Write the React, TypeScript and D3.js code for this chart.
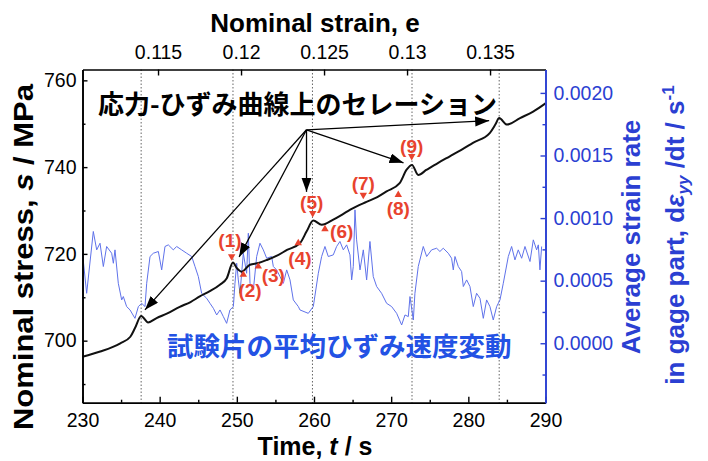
import { useEffect, useRef } from "react"
import * as d3 from "d3"

// stress-time curve (s, MPa)
const stressTime = [230, 232.3, 234.9, 236.2, 236.8, 237.6, 238.5, 239.6, 241.0, 242.6, 244.0, 245.2, 246.5, 247.8, 248.7, 249.5, 250.0, 250.6, 251.7, 252.8, 253.9, 255.2, 256.5, 258.2, 259.05, 259.9, 261.0, 262.5, 263.6, 264.7, 266.8, 268.2, 269.4, 271.1, 272.0, 272.7, 273.5, 274.6, 276.1, 277.6, 279.1, 280.6, 282.8, 283.5, 284.0, 285.0, 286.7, 288.4, 290.0]
const stressValues = [696.3, 697.5, 699.4, 700.9, 702.9, 705.7, 704.2, 705.2, 706.3, 707.8, 708.9, 710.2, 711.4, 712.9, 714.4, 718.0, 716.7, 715.9, 717.5, 717.9, 718.6, 719.6, 720.9, 722.5, 725.2, 727.7, 726.7, 727.9, 729.0, 730.2, 732.0, 733.1, 734.4, 736.3, 739.4, 740.5, 738.2, 739.4, 741.0, 742.5, 744.0, 745.6, 747.9, 749.8, 751.3, 749.8, 751.3, 752.8, 754.7]

// average strain rate (1/s)
const rateTime = [230.0, 230.54, 231.4, 231.84, 232.27, 232.7, 233.13, 233.78, 234.0, 234.21, 234.64, 235.08, 235.29, 235.72, 236.16, 236.8, 237.24, 237.67, 238.1, 238.32, 238.75, 239.18, 239.83, 240.26, 240.69, 241.12, 241.77, 242.2, 242.85, 243.5, 244.15, 244.58, 245.01, 245.44, 246.09, 246.52, 246.96, 247.39, 247.82, 248.25, 248.68, 249.11, 249.55, 249.76, 249.98, 250.19, 250.41, 250.84, 251.27, 251.49, 251.71, 252.14, 252.57, 253.0, 253.43, 253.87, 254.51, 254.73, 255.16, 255.59, 256.03, 256.46, 256.89, 257.32, 257.97, 258.18, 259.26, 259.91, 260.56, 260.99, 261.42, 261.85, 262.5, 262.93, 263.36, 263.8, 264.23, 264.66, 264.88, 265.09, 265.31, 265.52, 265.96, 266.39, 266.82, 267.25, 267.68, 268.12, 268.76, 269.41, 270.06, 270.71, 271.36, 271.79, 272.22, 272.44, 272.87, 273.08, 273.51, 274.16, 274.6, 275.24, 275.89, 276.32, 276.75, 277.4, 277.83, 278.05, 278.27, 278.7, 279.13, 279.35, 279.78, 280.21, 280.64, 281.07, 281.51, 281.94, 282.37, 282.8, 283.23, 283.67, 284.1, 284.53, 285.18, 285.61, 286.04, 286.47, 286.91, 287.34, 287.99, 288.42, 288.85, 289.07, 289.28, 289.5]
const rateValues = [0.000719, 0.000399, 0.000893, 0.000746, 0.000799, 0.000613, 0.000773, 0.000719, 0.000639, 0.000746, 0.000479, 0.000346, 0.000373, 0.000293, 0.000266, 0.000199, 0.000293, 0.000319, 0.000293, 0.000479, 0.000693, 0.000719, 0.000733, 0.000586, 0.000773, 0.000786, 0.000746, 0.000773, 0.000746, 0.000719, 0.000693, 0.000613, 0.000533, 0.000399, 0.000359, 0.000319, 0.000279, 0.000226, 0.000266, 0.000213, 0.000159, 0.000266, 0.000293, 0.000479, 0.000639, 0.000506, 0.000399, 0.000719, 0.000559, 0.000879, 0.000479, 0.000426, 0.000693, 0.000799, 0.000746, 0.000679, 0.000693, 0.000613, 0.000586, 0.000533, 0.000479, 0.000586, 0.000506, 0.000346, 0.000293, 0.000266, 0.000239, 0.000293, 0.000559, 0.000693, 0.000773, 0.000693, 0.000706, 0.000773, 0.000813, 0.000746, 0.000786, 0.000706, 0.000506, 0.000613, 0.001066, 0.000826, 0.000586, 0.000746, 0.000506, 0.000813, 0.000533, 0.000453, 0.000399, 0.000319, 0.000293, 0.000239, 0.000146, 0.000226, 0.000213, 0.000373, 0.000186, 0.000399, 0.000613, 0.000773, 0.000693, 0.000746, 0.000759, 0.000733, 0.000759, 0.000719, 0.000679, 0.000586, 0.000693, 0.000613, 0.000573, 0.000453, 0.000506, 0.000453, 0.000293, 0.000399, 0.000359, 0.000199, 0.000346, 0.000293, 0.000186, 0.000293, 0.000346, 0.000479, 0.000693, 0.000773, 0.000666, 0.000746, 0.000679, 0.000773, 0.000653, 0.000826, 0.000746, 0.000786, 0.000586, 0.000773]

const serrationTimes = [237.6, 249.5, 259.8, 272.7, 284.0]

const timeTicks = [230, 240, 250, 260, 270, 280, 290]
const timeMinor = [235, 245, 255, 265, 275, 285]
const strainTicks = [0.115, 0.12, 0.125, 0.13, 0.135]
const stressTicks = [700, 720, 740, 760]
const stressMinor = [690, 710, 730, 750]
const rateTicks = [0, 0.0005, 0.001, 0.0015, 0.002]
const rateMinor = [-0.00025, 0.00025, 0.00075, 0.00125, 0.00175]

// arrows from the caption to the serrations
const arrowOriginTime = 259.03
const arrowOriginStress = 748.6
const arrowTargetTime = [238.1, 250.3, 259.03, 271.6, 282.7]
const arrowTargetStress = [707.1, 719.3, 734.3, 741.0, 750.7]

// numbered events
const eventLabels = ["(1)", "(2)", "(3)", "(4)", "(5)", "(6)", "(7)", "(8)", "(9)"]
const eventMarkTime = [249.33, 250.84, 252.78, 257.96, 259.83, 261.42, 266.39, 270.92, 272.66]
const eventMarkStress = [719.4, 715.2, 717.1, 722.5, 729.4, 725.7, 733.6, 733.6, 742.5]
const eventMarkDown = [true, false, false, false, true, false, true, false, true]
const eventTextTime = [249.11, 251.71, 254.72, 258.18, 259.7, 263.59, 266.39, 270.92, 272.66]
const eventTextStress = [723.1, 711.7, 715.2, 719.0, 732.0, 725.2, 736.2, 730.6, 744.9]

const BLUE = "#2b3fd2"
const RED = "#e8432e"
const FONT = "Arial, 'Liberation Sans', sans-serif"
const JP = "'Noto Sans CJK JP', sans-serif"

export default function App() {
  const svgRef = useRef<SVGSVGElement>(null)

  useEffect(() => {
    document.body.style.margin = "0"
    if (!svgRef.current) return
    const svg = d3.select(svgRef.current)
    svg.selectAll("*").remove()

    const left = 82.5
    const right = 545.5
    const top = 69.5
    const bottom = 402.7

    const x = d3.scaleLinear().domain([230, 290]).range([left, right])
    const xStrain = d3.scaleLinear().domain([0.11045, 0.13834]).range([left, right])
    const y = d3.scaleLinear().domain([685.7, 762.5]).range([bottom, top])
    const yRate = d3.scaleLinear().domain([-0.000475, 0.002187]).range([bottom, top])

    const defs = svg.append("defs")
    defs
      .append("marker")
      .attr("id", "arrowhead")
      .attr("markerUnits", "userSpaceOnUse")
      .attr("markerWidth", 15)
      .attr("markerHeight", 11)
      .attr("refX", 14)
      .attr("refY", 5)
      .attr("orient", "auto")
      .append("path")
      .attr("d", "M0,0 L14,5 L0,10 Z")
      .attr("fill", "#000")

    // dotted serration lines
    svg
      .append("g")
      .selectAll("line")
      .data(serrationTimes)
      .enter()
      .append("line")
      .attr("x1", (d) => x(d))
      .attr("x2", (d) => x(d))
      .attr("y1", top)
      .attr("y2", bottom)
      .attr("stroke", "#555")
      .attr("stroke-width", 0.9)
      .attr("stroke-dasharray", "1.5,2")

    // strain rate line
    const rateData = rateTime.map((t, i) => [t, rateValues[i]] as [number, number])
    svg
      .append("path")
      .datum(rateData)
      .attr("fill", "none")
      .attr("stroke", "#5f72ea")
      .attr("stroke-width", 1)
      .attr("d", d3.line<[number, number]>().x((d) => x(d[0])).y((d) => yRate(d[1])))

    // stress line
    const stressData = stressTime.map((t, i) => [t, stressValues[i]] as [number, number])
    svg
      .append("path")
      .datum(stressData)
      .attr("fill", "none")
      .attr("stroke", "#111")
      .attr("stroke-width", 2)
      .attr("stroke-linejoin", "round")
      .attr(
        "d",
        d3
          .line<[number, number]>()
          .x((d) => x(d[0]))
          .y((d) => y(d[1]))
          .curve(d3.curveMonotoneX)
      )

    // axes
    const styleAxis = (g: any, color: string) => {
      g.select(".domain").attr("stroke", color).attr("stroke-width", 1.6)
      g.selectAll(".tick line").attr("stroke", color).attr("stroke-width", 1.4)
      g.selectAll(".tick text")
        .attr("fill", color)
        .attr("font-family", FONT)
        .attr("font-size", 19.5)
    }

    const bottomMinor = svg.append("g").attr("transform", `translate(0,${bottom})`)
      .call(d3.axisBottom(x).tickValues(timeMinor).tickSize(-3).tickSizeOuter(0).tickFormat(() => ""))
    styleAxis(bottomMinor, "#000")
    const bottomAxis = svg.append("g").attr("transform", `translate(0,${bottom})`)
      .call(d3.axisBottom(x).tickValues(timeTicks).tickSize(-6).tickSizeOuter(0).tickPadding(10).tickFormat(d3.format("d")))
    styleAxis(bottomAxis, "#000")

    const topAxis = svg.append("g").attr("transform", `translate(0,${top})`)
      .call(d3.axisTop(xStrain).tickValues(strainTicks).tickSize(-6).tickSizeOuter(0).tickPadding(11).tickFormat((d: any) => String(+d)))
    styleAxis(topAxis, "#000")

    const leftMinor = svg.append("g").attr("transform", `translate(${left},0)`)
      .call(d3.axisLeft(y).tickValues(stressMinor).tickSize(-3).tickSizeOuter(0).tickFormat(() => ""))
    styleAxis(leftMinor, "#000")
    const leftAxis = svg.append("g").attr("transform", `translate(${left},0)`)
      .call(d3.axisLeft(y).tickValues(stressTicks).tickSize(-5).tickSizeOuter(0).tickPadding(6).tickFormat(d3.format("d")))
    styleAxis(leftAxis, "#000")

    const rightMinor = svg.append("g").attr("transform", `translate(${right},0)`)
      .call(d3.axisRight(yRate).tickValues(rateMinor).tickSize(-3).tickSizeOuter(0).tickFormat(() => ""))
    styleAxis(rightMinor, BLUE)
    const rightAxis = svg.append("g").attr("transform", `translate(${right},0)`)
      .call(d3.axisRight(yRate).tickValues(rateTicks).tickSize(-5).tickSizeOuter(0).tickPadding(8).tickFormat(d3.format(".4f")))
    styleAxis(rightAxis, BLUE)

    // arrows
    svg
      .append("g")
      .selectAll("line")
      .data(arrowTargetTime)
      .enter()
      .append("line")
      .attr("x1", x(arrowOriginTime))
      .attr("y1", y(arrowOriginStress))
      .attr("x2", (d) => x(d))
      .attr("y2", (d, i) => y(arrowTargetStress[i]))
      .attr("stroke", "#000")
      .attr("stroke-width", 1.3)
      .attr("marker-end", "url(#arrowhead)")

    // event markers and labels
    const tri = d3.symbol().type(d3.symbolTriangle).size(24)
    svg
      .append("g")
      .selectAll("path")
      .data(eventLabels)
      .enter()
      .append("path")
      .attr("d", tri as any)
      .attr("fill", RED)
      .attr(
        "transform",
        (d, i) => `translate(${x(eventMarkTime[i])},${y(eventMarkStress[i])}) rotate(${eventMarkDown[i] ? 180 : 0})`
      )
    svg
      .append("g")
      .selectAll("text")
      .data(eventLabels)
      .enter()
      .append("text")
      .attr("x", (d, i) => x(eventTextTime[i]))
      .attr("y", (d, i) => y(eventTextStress[i]))
      .attr("dy", "0.36em")
      .attr("text-anchor", "middle")
      .attr("font-family", FONT)
      .attr("font-weight", "bold")
      .attr("font-size", 19)
      .attr("fill", RED)
      .text((d) => d)

    // Japanese captions
    svg
      .append("text")
      .attr("x", 98)
      .attr("y", 114)
      .attr("font-family", JP)
      .attr("font-weight", "bold")
      .attr("font-size", 26)
      .attr("fill", "#000")
      .text("応力-ひずみ曲線上のセレーション")
    svg
      .append("text")
      .attr("x", 167)
      .attr("y", 356)
      .attr("font-family", JP)
      .attr("font-weight", "bold")
      .attr("font-size", 26.5)
      .attr("fill", "#2352e4")
      .text("試験片の平均ひずみ速度変動")

    // axis titles
    svg
      .append("text")
      .attr("x", 315)
      .attr("y", 32)
      .attr("text-anchor", "middle")
      .attr("font-family", FONT)
      .attr("font-weight", "bold")
      .attr("font-size", 26)
      .text("Nominal strain, e")

    const bottomTitle = svg
      .append("text")
      .attr("x", 315)
      .attr("y", 455)
      .attr("text-anchor", "middle")
      .attr("font-family", FONT)
      .attr("font-weight", "bold")
      .attr("font-size", 25)
    bottomTitle.append("tspan").text("Time, ")
    bottomTitle.append("tspan").attr("font-style", "italic").text("t")
    bottomTitle.append("tspan").text(" / s")

    const leftTitle = svg
      .append("text")
      .attr("transform", "translate(33,257) rotate(-90)")
      .attr("text-anchor", "middle")
      .attr("font-family", FONT)
      .attr("font-weight", "bold")
      .attr("font-size", 27)
      .attr("textLength", 346)
      .attr("lengthAdjust", "spacingAndGlyphs")
    leftTitle.append("tspan").text("Nominal stress, ")
    leftTitle.append("tspan").attr("font-style", "italic").text("s")
    leftTitle.append("tspan").text(" / MPa")

    svg
      .append("text")
      .attr("transform", "translate(640,237) rotate(-90)")
      .attr("text-anchor", "middle")
      .attr("font-family", FONT)
      .attr("font-weight", "bold")
      .attr("font-size", 26)
      .attr("fill", BLUE)
      .text("Average strain rate")

    const r2 = svg
      .append("text")
      .attr("transform", "translate(684,235) rotate(-90)")
      .attr("text-anchor", "middle")
      .attr("font-family", FONT)
      .attr("font-weight", "bold")
      .attr("font-size", 26)
      .attr("fill", BLUE)
    r2.append("tspan").text("in gage part, d")
    r2.append("tspan").attr("font-style", "italic").text("ε")
    r2.append("tspan").attr("font-style", "italic").attr("font-size", 17).attr("dy", 5).text("yy")
    r2.append("tspan").attr("dy", -5).text(" /dt / s")
    r2.append("tspan").attr("font-size", 17).attr("dy", -10).text("-1")
  }, [])

  return (
    <svg
      ref={svgRef}
      width={708}
      height={461}
      style={{ position: "absolute", left: 0, top: 0, background: "#fff" }}
    />
  )
}
